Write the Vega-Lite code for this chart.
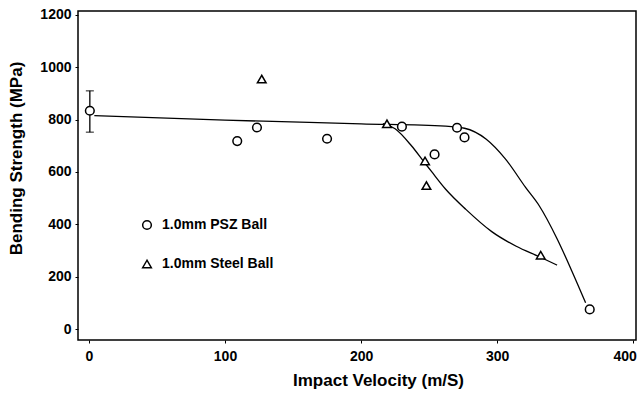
{
  "$schema": "https://vega.github.io/schema/vega-lite/v6.json",
  "autosize": {"type": "none"},
  "width": 558,
  "height": 329,
  "padding": {"left": 78, "top": 11, "right": 1, "bottom": 54},
  "background": "white",
  "config": {
    "view": {"stroke": "black", "strokeWidth": 1.5},
    "font": "Liberation Sans",
    "axis": {
      "grid": false, "domain": false, "tickColor": "black", "tickSize": 3,
      "labelFont": "Liberation Sans", "labelFontWeight": "bold", "labelFontSize": 14, "labelColor": "black",
      "titleFont": "Liberation Sans", "titleFontWeight": "bold", "titleFontSize": 17, "titleColor": "black"
    }
  },
  "resolve": {"scale": {"shape": "shared"}, "legend": {"shape": "independent"}},
  "datasets": {
    "points": [
      {"v": 0.7, "s": 834, "type": "1.0mm PSZ Ball"},
      {"v": 109, "s": 718, "type": "1.0mm PSZ Ball"},
      {"v": 123.5, "s": 770, "type": "1.0mm PSZ Ball"},
      {"v": 175, "s": 727, "type": "1.0mm PSZ Ball"},
      {"v": 230, "s": 773, "type": "1.0mm PSZ Ball"},
      {"v": 270.5, "s": 769, "type": "1.0mm PSZ Ball"},
      {"v": 276, "s": 732, "type": "1.0mm PSZ Ball"},
      {"v": 254, "s": 667, "type": "1.0mm PSZ Ball"},
      {"v": 368, "s": 75, "type": "1.0mm PSZ Ball"},
      {"v": 127, "s": 955, "type": "1.0mm Steel Ball"},
      {"v": 219, "s": 784, "type": "1.0mm Steel Ball"},
      {"v": 247, "s": 642, "type": "1.0mm Steel Ball"},
      {"v": 248, "s": 548, "type": "1.0mm Steel Ball"},
      {"v": 332, "s": 282, "type": "1.0mm Steel Ball"}
    ],
    "curves": [
      {"series": "PSZ", "v": 4, "s": 815},
      {"series": "PSZ", "v": 100, "s": 798},
      {"series": "PSZ", "v": 200, "s": 784},
      {"series": "PSZ", "v": 262, "s": 775},
      {"series": "PSZ", "v": 276, "s": 767},
      {"series": "PSZ", "v": 292, "s": 725},
      {"series": "PSZ", "v": 306, "s": 650},
      {"series": "PSZ", "v": 321, "s": 540},
      {"series": "PSZ", "v": 331, "s": 470},
      {"series": "PSZ", "v": 344, "s": 345},
      {"series": "PSZ", "v": 355, "s": 220},
      {"series": "PSZ", "v": 365, "s": 100},
      {"series": "Steel", "v": 216, "s": 785},
      {"series": "Steel", "v": 225, "s": 765},
      {"series": "Steel", "v": 237, "s": 700},
      {"series": "Steel", "v": 246, "s": 640},
      {"series": "Steel", "v": 252, "s": 600},
      {"series": "Steel", "v": 262, "s": 535},
      {"series": "Steel", "v": 277, "s": 457},
      {"series": "Steel", "v": 296, "s": 372},
      {"series": "Steel", "v": 314, "s": 316},
      {"series": "Steel", "v": 331, "s": 276},
      {"series": "Steel", "v": 344, "s": 244}
    ],
    "errbar": [{"v": 0.7, "lo": 752, "hi": 910}]
  },
  "layer": [
    {
      "data": {"name": "curves"},
      "mark": {"type": "line", "interpolate": "monotone", "color": "black", "strokeWidth": 1.3},
      "encoding": {
        "x": {"field": "v", "type": "quantitative", "scale": {"domain": [-8, 402], "nice": false, "zero": false},
              "axis": {"values": [0, 100, 200, 300, 400], "format": "d", "title": "Impact Velocity (m/S)",
                       "labelPadding": 6, "titleX": 300, "titleY": 40, "titleBaseline": "middle",
                       "labelAlign": {"condition": {"test": "datum.value == 400", "value": "right"}, "value": "center"},
                       "labelOffset": {"condition": {"test": "datum.value == 400", "value": 3}, "value": 0}}},
        "y": {"field": "s", "type": "quantitative", "scale": {"domain": [-42, 1215], "nice": false, "zero": false},
              "axis": {"values": [0, 200, 400, 600, 800, 1000, 1200], "format": "d", "title": "Bending Strength (MPa)",
                       "labelPadding": 4, "titleX": -62, "titleY": 147, "titleBaseline": "middle", "titleFontSize": 17}},
        "detail": {"field": "series"}
      }
    },
    {
      "data": {"name": "errbar"},
      "mark": {"type": "rule", "color": "black", "strokeWidth": 1.3},
      "encoding": {
        "x": {"field": "v", "type": "quantitative"},
        "y": {"field": "lo", "type": "quantitative"},
        "y2": {"field": "hi"}
      }
    },
    {
      "data": {"name": "errbar"},
      "mark": {"type": "tick", "orient": "horizontal", "color": "black", "size": 8, "thickness": 1.3},
      "encoding": {
        "x": {"field": "v", "type": "quantitative"},
        "y": {"field": "lo", "type": "quantitative"}
      }
    },
    {
      "data": {"name": "errbar"},
      "mark": {"type": "tick", "orient": "horizontal", "color": "black", "size": 8, "thickness": 1.3},
      "encoding": {
        "x": {"field": "v", "type": "quantitative"},
        "y": {"field": "hi", "type": "quantitative"}
      }
    },
    {
      "data": {"name": "points"},
      "mark": {"type": "point", "filled": true, "color": "white", "size": 75, "opacity": 1},
      "encoding": {
        "x": {"field": "v", "type": "quantitative"},
        "y": {"field": "s", "type": "quantitative"},
        "shape": {"field": "type", "type": "nominal", "legend": null}
      }
    },
    {
      "data": {"name": "points"},
      "mark": {"type": "point", "filled": false, "color": "black", "strokeWidth": 1.5, "size": 75, "opacity": 1},
      "encoding": {
        "x": {"field": "v", "type": "quantitative"},
        "y": {"field": "s", "type": "quantitative"},
        "shape": {
          "field": "type", "type": "nominal",
          "scale": {"domain": ["1.0mm PSZ Ball", "1.0mm Steel Ball"], "range": ["circle", "triangle-up"]},
          "legend": {
            "title": null, "orient": "none", "legendX": 62, "legendY": 207,
            "labelFont": "Liberation Sans", "labelFontWeight": "bold", "labelFontSize": 14, "labelColor": "black",
            "symbolStrokeColor": "black", "symbolStrokeWidth": 1.5, "symbolSize": 75, "symbolOpacity": 1,
            "rowPadding": 24, "labelOffset": 8
          }
        }
      }
    }
  ]
}
